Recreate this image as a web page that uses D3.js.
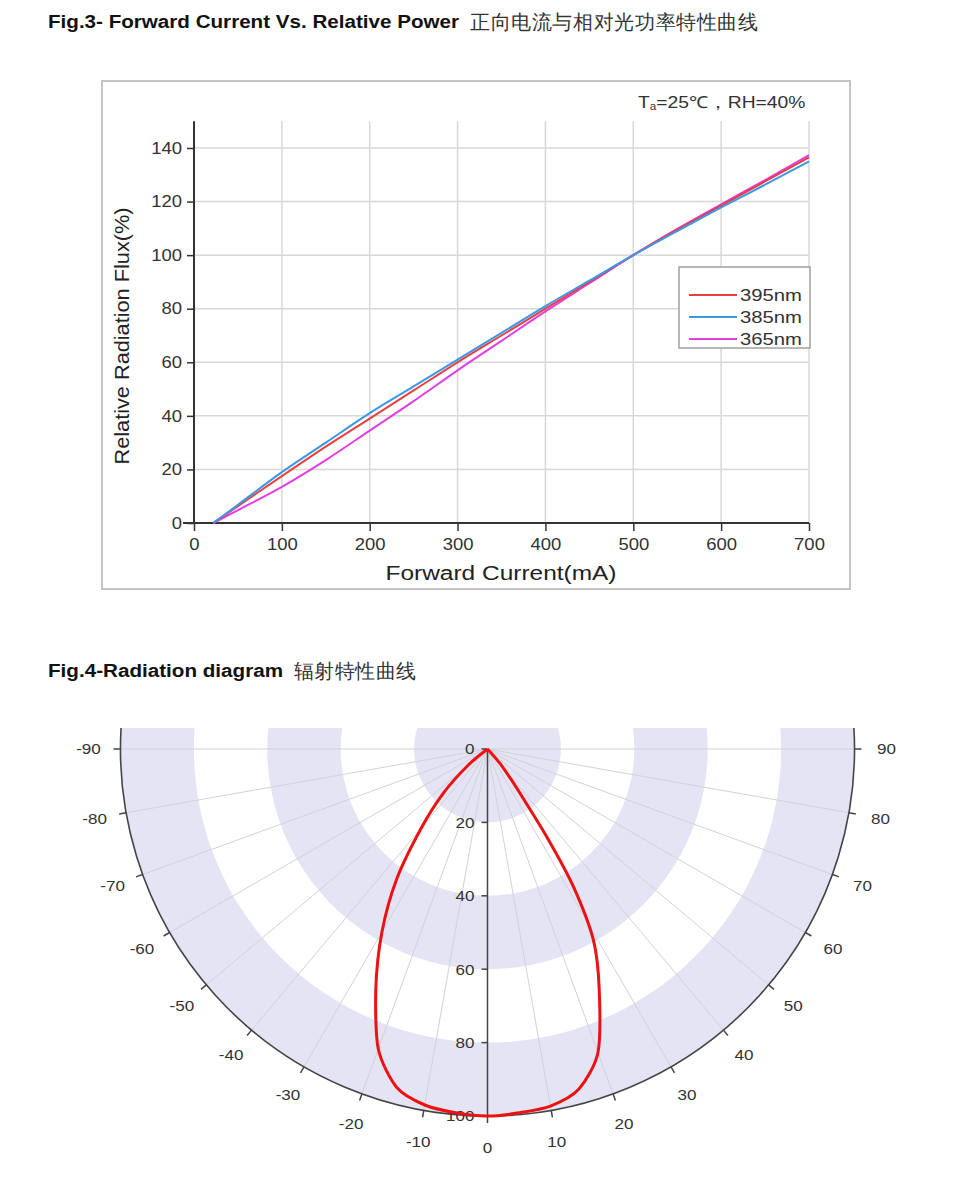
<!DOCTYPE html>
<html>
<head>
<meta charset="utf-8">
<script src="https://cdn.jsdelivr.net/npm/d3@7"></script>
<style>
  body { margin: 0; background: #fff; }
  svg { display: block; }
  text { font-family: "Liberation Sans", Arial, sans-serif; }
</style>
</head>
<body>
<div id="viz"></div>
<script>
// Fig.3 data: forward current (mA) vs relative radiation flux (%)
const currents = [22, 50, 100, 150, 200, 250, 300, 350, 400, 450, 500, 550, 600, 650, 700]
const flux395 = [0, 6.3, 17.5, 28.5, 39, 49.5, 60, 70, 80, 90, 100, 109.5, 118.5, 127.5, 136.5]
const flux385 = [0, 6.8, 19, 30, 41, 51, 61, 71, 81, 90.5, 100, 109, 117.8, 126.3, 135]
const flux365 = [0, 4.8, 13.5, 23.5, 34.5, 45.5, 57, 68, 79, 89.5, 100, 109.8, 119, 128, 137.3]
const seriesNames = ["395nm", "385nm", "365nm"]
const xTicks = [0, 100, 200, 300, 400, 500, 600, 700]
const yTicks = [0, 20, 40, 60, 80, 100, 120, 140]

// Fig.4 data: radiation pattern, angle (deg) vs relative intensity (%)
const radAngles = [-54, -50, -45, -40, -35, -30, -25, -20, -15, -10, -5, 0, 5, 10, 15, 20, 25, 29, 32, 34, 36, 38, 41, 44]
const radValues = [0, 7, 17, 28, 43, 57.5, 72, 87, 95.5, 98.5, 99.5, 100, 99.5, 98.8, 96, 88, 72, 59.5, 44, 29, 16, 10, 5, 0]
const angleTicks = d3.range(-90, 91, 10)
const rTicks = [0, 20, 40, 60, 80, 100]

// widen glyphs a little, the source picture is stretched sideways
function stretch(sel, k) {
    sel.each(function () {
        const w = this.getComputedTextLength()
        d3.select(this).attr("textLength", w * k).attr("lengthAdjust", "spacingAndGlyphs")
    })
}

document.addEventListener("DOMContentLoaded", () => {
    const width = 960
    const height = 1183

    const svg = d3.select("#viz").append("svg")
        .attr("width", width)
        .attr("height", height)

    // ---------- titles ----------
    svg.append("text").attr("x", 48).attr("y", 28)
        .attr("font-weight", "bold").attr("font-size", 18).attr("fill", "#111")
        .attr("textLength", 411).attr("lengthAdjust", "spacingAndGlyphs")
        .text("Fig.3- Forward Current Vs. Relative Power")
    svg.append("text").attr("x", 470).attr("y", 29)
        .attr("font-family", "Noto Sans CJK SC").attr("font-size", 19.5).attr("fill", "#333")
        .attr("textLength", 288).attr("lengthAdjust", "spacing")
        .text("正向电流与相对光功率特性曲线")

    svg.append("text").attr("x", 48).attr("y", 677)
        .attr("font-weight", "bold").attr("font-size", 18).attr("fill", "#111")
        .attr("textLength", 235).attr("lengthAdjust", "spacingAndGlyphs")
        .text("Fig.4-Radiation diagram")
    svg.append("text").attr("x", 294).attr("y", 678)
        .attr("font-family", "Noto Sans CJK SC").attr("font-size", 19.5).attr("fill", "#333")
        .attr("textLength", 122).attr("lengthAdjust", "spacing")
        .text("辐射特性曲线")

    // ---------- Fig.3 line chart ----------
    svg.append("rect")
        .attr("x", 102).attr("y", 81).attr("width", 748).attr("height", 508)
        .attr("fill", "none").attr("stroke", "#c4c4c4").attr("stroke-width", 2)

    const x = d3.scaleLinear().domain([0, 700]).range([194, 809])
    const y = d3.scaleLinear().domain([0, 140]).range([523, 148])
    const yTop = y(150)

    const g = svg.append("g")

    // grid
    g.selectAll(".vgrid").data(xTicks.filter(d => d > 0)).enter().append("line")
        .attr("x1", d => x(d)).attr("x2", d => x(d))
        .attr("y1", yTop).attr("y2", y(0))
        .attr("stroke", "#d8d8d8").attr("stroke-width", 1.5)
    g.selectAll(".hgrid").data(yTicks.filter(d => d > 0)).enter().append("line")
        .attr("x1", x(0)).attr("x2", x(700))
        .attr("y1", d => y(d)).attr("y2", d => y(d))
        .attr("stroke", "#d8d8d8").attr("stroke-width", 1.5)

    // axes
    const xAxis = d3.axisBottom(x).tickValues(xTicks).tickSize(8).tickPadding(7)
    const yAxis = d3.axisLeft(y).tickValues(yTicks).tickSize(7).tickPadding(5)

    const gx = g.append("g").attr("transform", `translate(0,${y(0)})`).call(xAxis)
    const gy = g.append("g").attr("transform", `translate(${x(0)},0)`).call(yAxis)
    gx.select(".domain").remove()
    gy.select(".domain").remove()
    g.append("line").attr("x1", x(0) - 11).attr("x2", x(700)).attr("y1", y(0)).attr("y2", y(0))
        .attr("stroke", "#333").attr("stroke-width", 2)
    g.append("line").attr("x1", x(0)).attr("x2", x(0)).attr("y1", yTop).attr("y2", y(0))
        .attr("stroke", "#333").attr("stroke-width", 2)
    ;[gx, gy].forEach(a => {
        a.selectAll(".tick line").attr("stroke", "#333").attr("stroke-width", 1.5)
        const tt = a.selectAll(".tick text").attr("font-size", 16.5).attr("fill", "#333")
            .attr("font-family", "Liberation Sans, Arial, sans-serif")
        stretch(tt, 1.12)
    })

    // axis titles
    svg.append("text").attr("x", 501).attr("y", 580)
        .attr("text-anchor", "middle").attr("font-size", 20).attr("fill", "#222")
        .attr("textLength", 231).attr("lengthAdjust", "spacingAndGlyphs")
        .text("Forward Current(mA)")
    svg.append("text").attr("transform", "translate(129,336) rotate(-90)")
        .attr("text-anchor", "middle").attr("font-size", 20).attr("fill", "#222")
        .attr("textLength", 257).attr("lengthAdjust", "spacingAndGlyphs")
        .text("Relative Radiation Flux(%)")

    // condition text
    const cond = svg.append("text")
        .attr("transform", "translate(638,108) scale(1.17,1)")
        .attr("font-size", 16.5).attr("fill", "#333")
    cond.append("tspan").text("T")
    cond.append("tspan").attr("font-size", 10).attr("dy", 2).text("a")
    cond.append("tspan").attr("dy", -2).text("=25℃，RH=40%")

    // curves
    const colors = ["#e84040", "#3b98e8", "#e23ee6"]
    const series = [flux395, flux385, flux365]
    const line = d3.line()
        .x((d, i) => x(currents[i]))
        .y(d => y(d))
        .curve(d3.curveMonotoneX)

    // draw 365 first, then 395, then 385 on top
    ;[2, 0, 1].forEach(k => {
        g.append("path").datum(series[k])
            .attr("d", line)
            .attr("fill", "none")
            .attr("stroke", colors[k])
            .attr("stroke-width", 2)
    })

    // legend
    const leg = svg.append("g")
    leg.append("rect").attr("x", 679).attr("y", 267).attr("width", 131).attr("height", 81)
        .attr("fill", "#fff").attr("stroke", "#a0a0a0").attr("stroke-width", 1.5)
    seriesNames.forEach((name, i) => {
        const ly = 295 + i * 22
        leg.append("line").attr("x1", 689).attr("x2", 737).attr("y1", ly).attr("y2", ly)
            .attr("stroke", colors[i]).attr("stroke-width", 2)
        leg.append("text").attr("x", 740).attr("y", ly).attr("dy", "0.36em")
            .attr("font-size", 16.5).attr("fill", "#333")
            .attr("textLength", 62).attr("lengthAdjust", "spacingAndGlyphs")
            .text(name)
    })

    // ---------- Fig.4 polar chart ----------
    const cx = 487.5
    const cy = 749
    const R = 367
    const r = d3.scaleLinear().domain([0, 100]).range([0, R])
    const toRad = a => Math.PI - a * Math.PI / 180

    const p = svg.append("g").attr("transform", `translate(${cx},${cy})`)

    svg.append("clipPath").attr("id", "topclip")
        .append("rect").attr("x", -R - 10).attr("y", -21).attr("width", 2 * R + 20).attr("height", R + 40)

    const pc = p.append("g").attr("clip-path", "url(#topclip)")

    // shaded bands 0-20, 40-60, 80-100
    const bands = [[0, 20], [40, 60], [80, 100]]
    const arcBand = d3.arc().startAngle(0).endAngle(2 * Math.PI)
    pc.selectAll(".band").data(bands).enter().append("path")
        .attr("d", d => arcBand({ innerRadius: r(d[0]), outerRadius: r(d[1]) }))
        .attr("fill", "#e4e4f5")

    // spokes
    pc.selectAll(".spoke").data(angleTicks).enter().append("line")
        .attr("x1", 0).attr("y1", 0)
        .attr("x2", d => R * Math.sin(toRad(d)))
        .attr("y2", d => -R * Math.cos(toRad(d)))
        .attr("stroke", "#d2d2d6").attr("stroke-width", 1)

    // outer axis arc
    pc.append("path")
        .attr("d", d3.arc().innerRadius(R).outerRadius(R).startAngle(Math.PI / 2 - 0.1).endAngle(3 * Math.PI / 2 + 0.1)())
        .attr("fill", "none").attr("stroke", "#444").attr("stroke-width", 1.6)

    // angle ticks + labels
    p.selectAll(".atick").data(angleTicks).enter().append("line")
        .attr("x1", d => R * Math.sin(toRad(d)))
        .attr("y1", d => -R * Math.cos(toRad(d)))
        .attr("x2", d => (R + 7) * Math.sin(toRad(d)))
        .attr("y2", d => -(R + 7) * Math.cos(toRad(d)))
        .attr("stroke", "#444").attr("stroke-width", 1.5)
    const al = p.selectAll(".alabel").data(angleTicks).enter().append("text")
        .attr("x", d => 399 * Math.sin(toRad(d)))
        .attr("y", d => -399 * Math.cos(toRad(d)))
        .attr("text-anchor", "middle").attr("dy", "0.35em")
        .attr("font-size", 15.5).attr("fill", "#333")
        .text(d => d)
    stretch(al, 1.1)

    // radial axis
    p.append("line").attr("x1", 0).attr("x2", 0).attr("y1", 0).attr("y2", R)
        .attr("stroke", "#444").attr("stroke-width", 1.5)
    p.selectAll(".rtick").data(rTicks).enter().append("line")
        .attr("x1", -6).attr("x2", 0)
        .attr("y1", d => r(d)).attr("y2", d => r(d))
        .attr("stroke", "#444").attr("stroke-width", 1.5)
    const rl = p.selectAll(".rlabel").data(rTicks).enter().append("text")
        .attr("x", -13).attr("y", d => r(d)).attr("dy", "0.35em")
        .attr("text-anchor", "end").attr("font-size", 15.5).attr("fill", "#333")
        .text(d => d)
    stretch(rl, 1.1)

    // radiation curve
    const radial = d3.lineRadial()
        .angle((d, i) => toRad(radAngles[i]))
        .radius(d => r(d))
        .curve(d3.curveCardinal.tension(0.2))
    p.append("path").datum(radValues)
        .attr("d", radial)
        .attr("fill", "none")
        .attr("stroke", "#ee1111")
        .attr("stroke-width", 3)
        .attr("stroke-linejoin", "round")
})
</script>
</body>
</html>
